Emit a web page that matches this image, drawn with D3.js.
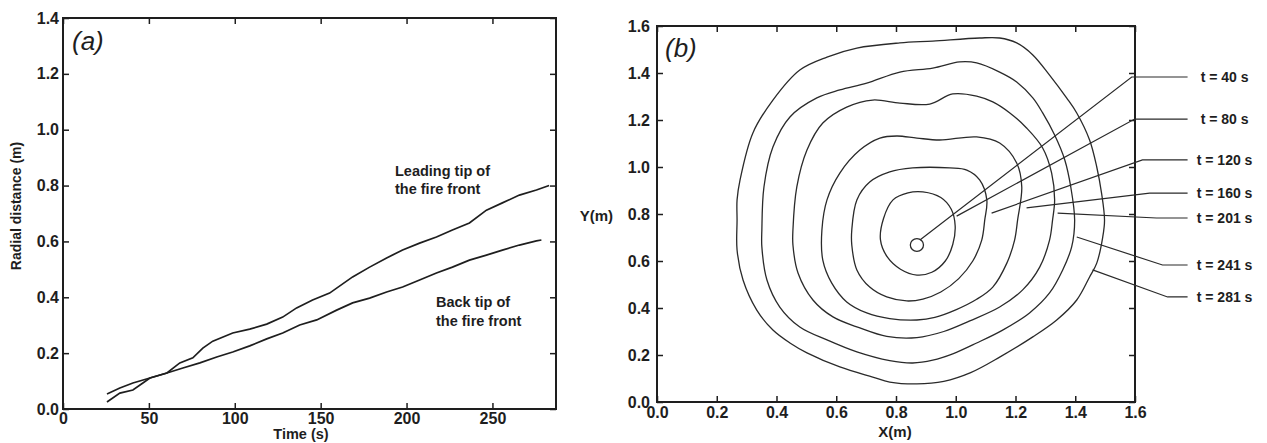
<!DOCTYPE html>
<html><head><meta charset="utf-8">
<script src="https://cdn.jsdelivr.net/npm/d3@7"></script>
<style>
body{margin:0;background:#fff;}
svg{font-family:"Liberation Sans",Arial,Helvetica,sans-serif;}
.tick text{font-weight:bold;}
</style></head>
<body>
<svg id="c" width="1267" height="443"></svg>
<script>
// ---------- Panel (a) data ----------
const timeTicks = [0, 50, 100, 150, 200, 250];
const radialTicks = [0.0, 0.2, 0.4, 0.6, 0.8, 1.0, 1.2, 1.4];
const leadingT = [25.6,33.1,40.7,46.5,50.6,60.5,68.0,75.6,81.4,87.2,98.8,108.7,118.6,127.9,136.0,145.3,155.2,168.6,178.5,188.4,197.7,207.6,217.4,226.7,236.6,246.5,255.8,265.7,275.6,283.0];
const leadingR = [0.025,0.057,0.068,0.093,0.111,0.129,0.165,0.183,0.218,0.243,0.272,0.286,0.304,0.329,0.362,0.390,0.415,0.473,0.508,0.541,0.569,0.594,0.616,0.641,0.666,0.712,0.738,0.766,0.784,0.800];
const backT = [25.6,33.1,40.7,50.6,60.5,69.8,79.7,89.5,98.8,108.7,118.6,127.9,137.8,147.7,159.3,168.6,178.5,188.4,197.7,207.6,217.4,226.7,236.6,246.5,255.8,265.7,275.6,278.5];
const backR = [0.054,0.075,0.093,0.111,0.129,0.147,0.165,0.186,0.204,0.226,0.251,0.272,0.301,0.319,0.354,0.380,0.397,0.419,0.437,0.462,0.487,0.508,0.533,0.551,0.569,0.587,0.602,0.605];

// ---------- Panel (b) data ----------
const xyTicks = [0.0, 0.2, 0.4, 0.6, 0.8, 1.0, 1.2, 1.4, 1.6];
const ignition = [0.87, 0.668];
const ring80 = [[0.89,0.894],[0.95,0.87],[0.985,0.82],[0.998,0.75],[0.99,0.67],[0.965,0.6],[0.92,0.552],[0.87,0.54],[0.815,0.565],[0.772,0.615],[0.748,0.69],[0.758,0.78],[0.79,0.86],[0.84,0.89]];
const ring120 = [[0.652,0.732],[0.669,0.86],[0.712,0.936],[0.779,0.979],[0.856,0.996],[0.98,0.996],[1.037,0.987],[1.08,0.945],[1.104,0.86],[1.097,0.774],[1.087,0.689],[1.057,0.6],[1.01,0.525],[0.95,0.468],[0.89,0.438],[0.836,0.43],[0.769,0.447],[0.712,0.489],[0.669,0.562],[0.652,0.668]];
const ring160 = [[0.552,0.732],[0.569,0.86],[0.612,0.974],[0.679,1.072],[0.746,1.123],[0.803,1.132],[0.87,1.123],[0.946,1.115],[1.07,1.128],[1.147,1.102],[1.204,1.017],[1.221,0.915],[1.207,0.774],[1.197,0.689],[1.171,0.591],[1.124,0.489],[1.07,0.437],[1.0,0.392],[0.93,0.36],[0.87,0.349],[0.779,0.355],[0.702,0.379],[0.635,0.426],[0.585,0.506],[0.555,0.604]];
const ring201 = [[0.455,0.732],[0.468,0.915],[0.502,1.072],[0.555,1.187],[0.635,1.255],[0.722,1.285],[0.813,1.272],[0.913,1.268],[0.99,1.311],[1.07,1.302],[1.124,1.277],[1.181,1.23],[1.237,1.166],[1.291,1.081],[1.321,0.974],[1.331,0.86],[1.324,0.774],[1.314,0.689],[1.281,0.574],[1.224,0.477],[1.147,0.404],[1.047,0.345],[0.96,0.3],[0.87,0.274],[0.769,0.279],[0.679,0.315],[0.589,0.362],[0.522,0.434],[0.472,0.549],[0.455,0.668]];
const ring241 = [[0.351,0.732],[0.358,0.915],[0.388,1.085],[0.445,1.213],[0.535,1.294],[0.612,1.328],[0.702,1.357],[0.813,1.404],[0.923,1.421],[1.013,1.447],[1.07,1.443],[1.147,1.404],[1.204,1.362],[1.258,1.294],[1.291,1.23],[1.331,1.136],[1.365,1.03],[1.385,0.915],[1.398,0.774],[1.388,0.66],[1.358,0.562],[1.314,0.464],[1.247,0.379],[1.157,0.306],[1.07,0.251],[0.99,0.205],[0.923,0.178],[0.856,0.166],[0.779,0.176],[0.669,0.213],[0.569,0.264],[0.478,0.319],[0.411,0.404],[0.368,0.519],[0.351,0.66]];
const ring281 = [[0.268,0.774],[0.268,0.86],[0.278,0.945],[0.321,1.145],[0.388,1.285],[0.478,1.413],[0.569,1.468],[0.669,1.506],[0.813,1.528],[0.923,1.536],[1.08,1.549],[1.147,1.549],[1.204,1.528],[1.258,1.477],[1.314,1.391],[1.371,1.294],[1.405,1.23],[1.448,1.115],[1.472,1.0],[1.488,0.889],[1.498,0.774],[1.492,0.702],[1.472,0.591],[1.448,0.532],[1.405,0.434],[1.338,0.349],[1.258,0.277],[1.147,0.191],[1.05,0.125],[0.96,0.088],[0.87,0.077],[0.779,0.085],[0.722,0.106],[0.612,0.149],[0.502,0.209],[0.445,0.251],[0.388,0.306],[0.334,0.391],[0.288,0.519],[0.268,0.647]];
const leaderLabels = ["t = 40 s","t = 80 s","t = 120 s","t = 160 s","t = 201 s","t = 241 s","t = 281 s"];
const leaderStart = [[0.88,0.689],[1.003,0.791],[1.12,0.804],[1.237,0.826],[1.341,0.804],[1.405,0.702],[1.458,0.562]];
const leaderElbow = [[1.589,1.383],[1.599,1.204],[1.625,1.03],[1.649,0.889],[1.672,0.783],[1.692,0.583],[1.709,0.447]];
const leaderEndX = 1.776;

const svg = d3.select("#c");
const ink = "#1e1e1e";

function frameAxes(g, x, y, tv, yv, xfmt, yfmt, ypad, xpad) {
  g.append("g").attr("transform",`translate(0,${y.range()[0]})`)
    .call(d3.axisBottom(x).tickValues(tv).tickSize(-6).tickPadding(xpad).tickFormat(xfmt));
  g.append("g").attr("transform",`translate(0,${y.range()[1]})`)
    .call(d3.axisTop(x).tickValues(tv).tickSize(-6).tickFormat(""));
  g.append("g").attr("transform",`translate(${x.range()[0]},0)`)
    .call(d3.axisLeft(y).tickValues(yv).tickSize(-6).tickPadding(ypad).tickFormat(yfmt));
  g.append("g").attr("transform",`translate(${x.range()[1]},0)`)
    .call(d3.axisRight(y).tickValues(yv).tickSize(-6).tickFormat(""));
  g.selectAll(".domain").remove();
  g.selectAll(".tick line").attr("stroke", ink).attr("stroke-width", 1.5);
  g.selectAll(".tick text").attr("fill", ink).style("font-size","16px");
  g.append("rect")
    .attr("x", x.range()[0]).attr("y", y.range()[1])
    .attr("width", x.range()[1]-x.range()[0]).attr("height", y.range()[0]-y.range()[1])
    .attr("fill","none").attr("stroke", ink).attr("stroke-width", 2);
}

// ---------- Panel (a) ----------
const xA = d3.scaleLinear().domain([0, 287]).range([63, 556]);
const yA = d3.scaleLinear().domain([0, 1.4]).range([409, 18]);
const gA = svg.append("g");
frameAxes(gA, xA, yA, timeTicks, radialTicks, d3.format("d"), d3.format(".1f"), 4, 4);

const lineA = d3.line().x(d => xA(d[0])).y(d => yA(d[1]));
gA.append("path").datum(leadingT.map((t,i)=>[t, leadingR[i]]))
  .attr("d", lineA).attr("fill","none").attr("stroke", ink).attr("stroke-width", 1.7);
gA.append("path").datum(backT.map((t,i)=>[t, backR[i]]))
  .attr("d", lineA).attr("fill","none").attr("stroke", ink).attr("stroke-width", 1.7);

gA.append("text").attr("x", 72).attr("y", 50).style("font-size","26px").style("font-style","italic").attr("fill", ink).text("(a)");
const annA = gA.append("g").attr("fill", ink).style("font-weight","bold").style("font-size","14.5px");
annA.append("text").attr("x", 395).attr("y", 176).text("Leading tip of");
annA.append("text").attr("x", 395).attr("y", 194).text("the fire front");
annA.append("text").attr("x", 436).attr("y", 307).text("Back tip of");
annA.append("text").attr("x", 436).attr("y", 326).text("the fire front");
gA.append("text").attr("x", 301).attr("y", 439).attr("text-anchor","middle")
  .style("font-weight","bold").style("font-size","14.5px").attr("fill", ink).text("Time (s)");
gA.append("text").attr("transform","translate(21,206) rotate(-90)").attr("text-anchor","middle")
  .style("font-weight","bold").style("font-size","14px").attr("fill", ink).text("Radial distance (m)");

// ---------- Panel (b) ----------
const xB = d3.scaleLinear().domain([0, 1.6]).range([657, 1135]);
const yB = d3.scaleLinear().domain([0, 1.6]).range([402, 26]);
const gB = svg.append("g");
frameAxes(gB, xB, yB, xyTicks, xyTicks, d3.format(".1f"), d3.format(".1f"), 7, 5);

const ringLine = d3.line().x(d => xB(d[0])).y(d => yB(d[1])).curve(d3.curveCatmullRomClosed.alpha(0.5));
gB.selectAll("path.ring").data([ring80, ring120, ring160, ring201, ring241, ring281]).join("path")
  .attr("class","ring").attr("d", ringLine).attr("fill","none").attr("stroke","#2a2a2a").attr("stroke-width", 1.3);
gB.append("ellipse").attr("cx", xB(ignition[0])).attr("cy", yB(ignition[1]))
  .attr("rx", xB(ignition[0]+0.022)-xB(ignition[0])).attr("ry", yB(ignition[1])-yB(ignition[1]+0.027))
  .attr("fill","none").attr("stroke","#2a2a2a").attr("stroke-width", 1.3);

const leaders = leaderLabels.map((lab,i)=>({lab, s: leaderStart[i], e: leaderElbow[i]}));
const lg = gB.selectAll("g.leader").data(leaders).join("g").attr("class","leader");
lg.append("polyline")
  .attr("points", d => [[xB(d.s[0]), yB(d.s[1])],[xB(d.e[0]), yB(d.e[1])],[xB(leaderEndX), yB(d.e[1])]].map(p=>p.join(",")).join(" "))
  .attr("fill","none").attr("stroke","#2a2a2a").attr("stroke-width", 1.2);
lg.append("text").attr("x", xB(leaderEndX)+37).attr("y", d => yB(d.e[1])).attr("dy","0.35em")
  .attr("text-anchor","middle").style("font-weight","bold").style("font-size","14px").attr("fill", ink).text(d => d.lab);

gB.append("text").attr("x", 665).attr("y", 57).style("font-size","26px").style("font-style","italic").attr("fill", ink).text("(b)");
gB.append("text").attr("x", 895).attr("y", 437).attr("text-anchor","middle")
  .style("font-weight","bold").style("font-size","15px").attr("fill", ink).text("X(m)");
gB.append("text").attr("x", 613).attr("y", 221).attr("text-anchor","end")
  .style("font-weight","bold").style("font-size","15px").attr("fill", ink).text("Y(m)");
</script>
</body></html>
